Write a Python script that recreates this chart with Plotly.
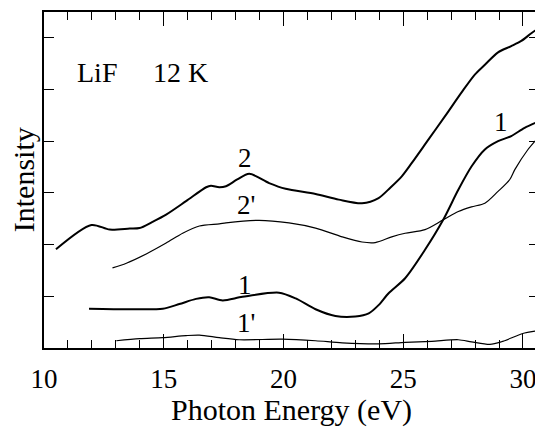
import plotly.graph_objects as go

# Curve 2 (thick)
x2 = [10.50, 11.98, 12.74, 13.58, 13.99, 14.53, 15.10, 15.93, 16.77, 16.97, 17.32, 17.60,
      18.07, 18.57, 19.40, 20.09, 21.34, 22.31, 23.28, 23.97, 24.46, 24.94, 25.36, 26.05,
      26.74, 27.43, 27.99, 28.41, 28.96, 29.51, 29.93, 30.35, 30.69]
y2 = [1.91, 2.38, 2.29, 2.31, 2.32, 2.44, 2.58, 2.84, 3.11, 3.14, 3.11, 3.13,
      3.26, 3.37, 3.19, 3.08, 2.98, 2.87, 2.80, 2.90, 3.10, 3.32, 3.58, 4.03,
      4.48, 4.94, 5.29, 5.48, 5.72, 5.84, 5.94, 6.09, 6.20]

# Curve 2' (thin)
x2p = [12.86, 13.44, 14.27, 15.10, 15.79, 16.49, 17.32, 17.60, 18.98, 20.23, 21.34, 22.45,
       23.28, 23.83, 24.52, 25.08, 25.91, 26.67, 27.30, 27.85, 28.41, 28.96, 29.45, 29.66,
       30.21, 30.67]
y2p = [1.55, 1.64, 1.82, 2.03, 2.22, 2.36, 2.40, 2.42, 2.47, 2.42, 2.32, 2.15,
       2.05, 2.04, 2.15, 2.22, 2.29, 2.48, 2.64, 2.73, 2.80, 3.03, 3.26, 3.45,
       3.84, 4.09]

# Curve 1 (thick)
x1 = [11.88, 13.58, 14.96, 15.65, 16.35, 16.90, 17.46, 18.29, 19.81, 20.51, 21.34, 22.17,
      23.00, 23.56, 23.97, 24.39, 25.08, 25.91, 26.67, 27.30, 27.85, 28.41, 28.96, 29.51,
      30.07, 30.69]
y1 = [0.76, 0.75, 0.76, 0.85, 0.95, 0.98, 0.92, 0.99, 1.07, 0.96, 0.75, 0.62,
      0.61, 0.67, 0.83, 1.06, 1.35, 1.90, 2.48, 3.06, 3.51, 3.84, 4.00, 4.10,
      4.26, 4.39]

# Curve 1' (thin)
x1p = [13.02, 13.99, 14.96, 15.93, 16.49, 17.32, 18.15, 19.95, 21.34, 22.45, 23.97, 25.08,
       26.19, 27.30, 27.85, 28.62, 29.10, 30.07, 30.69]
y1p = [0.14, 0.18, 0.20, 0.24, 0.25, 0.20, 0.16, 0.17, 0.14, 0.10, 0.08, 0.11,
       0.13, 0.16, 0.12, 0.07, 0.12, 0.29, 0.34]

x_range = [10, 30.67]
y_range = [0, 6.5]
x_ticks = [10, 15, 20, 25, 30]

FONT = "Liberation Serif"

fig = go.Figure()
for xs, ys, w in [(x2, y2, 2.0), (x2p, y2p, 1.2), (x1, y1, 2.0), (x1p, y1p, 1.2)]:
    fig.add_trace(go.Scatter(x=xs, y=ys, mode="lines",
                             line=dict(color="black", width=w, shape="spline", smoothing=0.8),
                             showlegend=False, hoverinfo="skip"))

labels = [("LiF", 12.2, 5.33, 28), ("12 K", 15.7, 5.33, 28), ("2", 18.4, 3.67, 27),
          ("2'", 18.45, 2.77, 27), ("1", 18.4, 1.22, 27), ("1'", 18.45, 0.48, 27),
          ("1", 29.1, 4.38, 27)]
for t, lx, ly, fs in labels:
    fig.add_annotation(x=lx, y=ly, text=t, showarrow=False,
                       font=dict(family=FONT, size=fs, color="black"))

fig.add_annotation(xref="paper", yref="paper", x=0.5, y=-0.185, yanchor="middle",
                   text="Photon Energy (eV)", showarrow=False,
                   font=dict(family=FONT, size=30, color="black"))
fig.add_annotation(xref="paper", yref="paper", x=-0.042, y=0.5, xanchor="center",
                   text="Intensity", textangle=-90, showarrow=False,
                   font=dict(family=FONT, size=30, color="black"))

fig.update_xaxes(range=x_range, tickvals=x_ticks, ticks="inside", ticklen=14, tickwidth=1,
                 tickcolor="black", showline=True, linecolor="black", linewidth=1.5,
                 mirror="allticks", showgrid=False, zeroline=False, ticklabelstandoff=6,
                 tickfont=dict(family=FONT, size=27, color="black"),
                 minor=dict(dtick=1, ticks="inside", ticklen=8, tickcolor="black", tickwidth=1,
                            showgrid=False))
fig.update_yaxes(range=y_range, dtick=1, ticks="inside", ticklen=10, tickwidth=1,
                 tickcolor="black", showline=True, linecolor="black", linewidth=1.5,
                 mirror="allticks", showgrid=False, zeroline=False, showticklabels=False)

# page body has an 8px margin: shrink figure so the plot lands where the reference has it
fig.update_layout(width=535, height=422, margin=dict(l=36, r=2, t=4, b=82),
                  plot_bgcolor="white", paper_bgcolor="white")

fig.write_html("out.html")
